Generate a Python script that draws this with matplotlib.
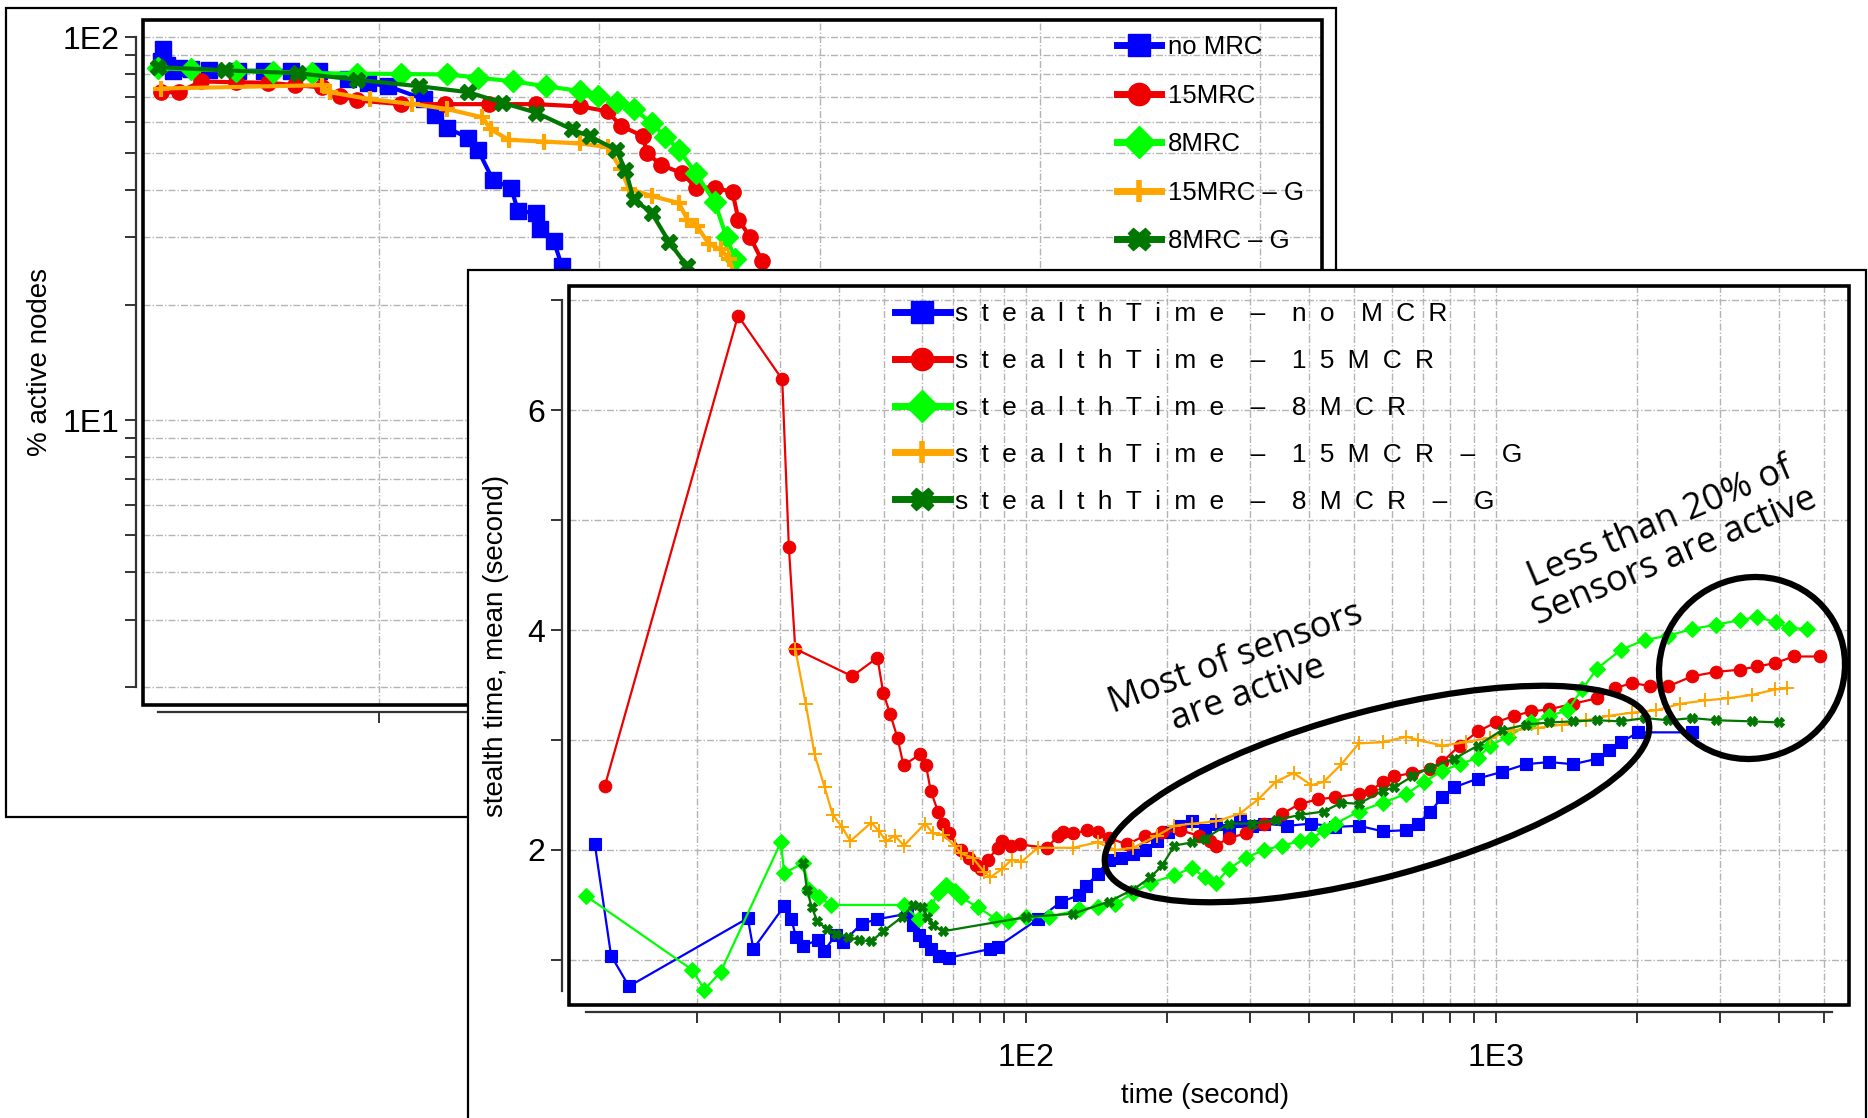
import matplotlib
matplotlib.use("Agg")
import matplotlib.pyplot as plt
from matplotlib.lines import Line2D
from matplotlib.patches import Rectangle, Ellipse

# ---------------- back chart: % active nodes ----------------
BACK_NO_T = [11, 22, 38, 65, 92, 150, 230, 362, 480, 600, 730, 859, 950, 1043, 1205,
             1254, 1308, 1405, 1449, 1519, 1600, 1632, 1713, 1730, 1794, 1832, 1865]
BACK_NO_V = [86.6, 93.1, 84.8, 81.8, 83.0, 82.5, 82.0, 81.8, 81.8, 81.8, 81.8, 77.8,
             76.0, 74.5, 68.9, 62.7, 58.0, 54.7, 50.9, 42.3, 40.5, 35.1, 34.8, 31.5,
             29.3, 25.2, 20.9]

BACK_15_T = [11, 92, 195, 350, 497, 620, 741, 822, 903, 1103, 1300, 1500, 1713, 1913,
             2038, 2097, 2200, 2216, 2281, 2378, 2438, 2524, 2605, 2632, 2686, 2740, 2794]
BACK_15_V = [71.9, 71.9, 76.7, 76.3, 76.1, 75.0, 74.0, 70.4, 68.4, 66.9, 66.9, 66.9,
             66.9, 66.0, 64.1, 58.8, 55.1, 49.9, 46.4, 44.1, 40.5, 40.5, 39.4, 33.4,
             30.0, 26.0, 21.7]

BACK_8_T = [0, 150, 350, 520, 697, 900, 1100, 1308, 1450, 1611, 1760, 1913, 1995, 2080,
            2157, 2238, 2300, 2362, 2438, 2524, 2578, 2616, 2659]
BACK_8_V = [83.0, 82.5, 81.8, 81.2, 80.6, 80.4, 80.2, 80.0, 78.5, 76.7, 74.5, 72.4,
            70.4, 67.8, 65.0, 59.7, 55.0, 50.9, 44.1, 37.2, 30.0, 26.4, 20.9]

BACK_15G_T = [11, 741, 778, 962, 1150, 1308, 1470, 1508, 1589, 1750, 1913, 2038, 2097,
              2135, 2238, 2362, 2400, 2443, 2497, 2551, 2589, 2632]
BACK_15G_V = [73.5, 75.0, 71.9, 68.9, 67.0, 65.0, 61.8, 57.5, 54.0, 53.4, 52.8, 51.7,
              45.4, 40.2, 38.5, 36.9, 33.4, 32.2, 28.9, 27.9, 26.4, 22.4]

BACK_8G_T = [0, 300, 632, 900, 1184, 1405, 1560, 1713, 1876, 1957, 2076, 2119, 2157,
             2238, 2319, 2400, 2443]
BACK_8G_V = [83.6, 82.0, 80.6, 77.5, 74.5, 71.9, 67.5, 63.6, 57.5, 55.1, 50.9, 45.1,
             37.7, 34.8, 29.1, 25.2, 21.7]

BACK_LABELS = ["no MRC", "15MRC", "8MRC", "15MRC \u2013 G", "8MRC \u2013 G"]

# ---------------- front chart: stealth time ----------------
NO_T = [12.1, 13.1, 14.3, 25.6, 26.3, 30.6, 31.7, 32.4, 33.6, 36.1, 37.2, 39.4, 40.8,
        44.7, 48.3, 55.8, 57.5, 59.2, 60.9, 62.7, 65.3, 68.5, 84, 87, 106, 119, 130,
        134, 142, 150, 159, 169, 179, 190, 201, 213, 226, 240, 254, 270, 285, 303,
        321, 360, 405, 455, 511, 574, 645, 683, 725, 769, 815, 916, 1029, 1157, 1300,
        1460, 1641, 1740, 1844, 2010, 2617]
NO_Y = [2.05, 1.04, 0.76, 1.38, 1.10, 1.49, 1.37, 1.21, 1.13, 1.18, 1.08, 1.23, 1.16,
        1.33, 1.37, 1.42, 1.32, 1.23, 1.17, 1.10, 1.04, 1.02, 1.10, 1.12, 1.37, 1.53,
        1.59, 1.67, 1.78, 1.91, 1.93, 1.96, 2.00, 2.08, 2.16, 2.22, 2.26, 2.18, 2.24,
        2.18, 2.26, 2.22, 2.24, 2.22, 2.24, 2.21, 2.22, 2.17, 2.18, 2.24, 2.35, 2.48,
        2.57, 2.65, 2.71, 2.78, 2.80, 2.78, 2.83, 2.91, 2.98, 3.07, 3.07]

MCR15_T = [12.7, 24.4, 30.3, 31.3, 32.3, 42.7, 48.3, 49.7, 51.4, 53.3, 54.9, 59.5, 61.3,
           62.7, 65.0, 66.5, 68.5, 72.6, 75.6, 78.3, 80.2, 83, 87, 89, 93, 97, 111,
           117, 120, 126, 135, 142, 150, 164, 179, 195, 213, 233, 247, 254, 270, 294,
           321, 351, 383, 418, 455, 511, 542, 574, 608, 664, 725, 769, 837, 916, 1000,
           1092, 1190, 1300, 1460, 1641, 1790, 1950, 2130, 2329, 2617, 2941, 3304,
           3600, 3930, 4300, 4890]
MCR15_Y = [2.58, 6.86, 6.28, 4.76, 3.83, 3.58, 3.75, 3.43, 3.24, 3.02, 2.77, 2.87, 2.77,
           2.54, 2.35, 2.24, 2.15, 2.00, 1.93, 1.86, 1.83, 1.91, 2.02, 2.08, 2.04, 2.05,
           2.02, 2.13, 2.16, 2.15, 2.18, 2.16, 2.11, 2.05, 2.13, 2.16, 2.18, 2.13, 2.08,
           2.04, 2.11, 2.15, 2.24, 2.33, 2.42, 2.46, 2.48, 2.51, 2.54, 2.62, 2.67, 2.70,
           2.74, 2.80, 2.95, 3.08, 3.16, 3.22, 3.26, 3.28, 3.33, 3.38, 3.47, 3.52, 3.49,
           3.49, 3.58, 3.62, 3.64, 3.67, 3.70, 3.76, 3.76]

MCR8_T = [11.6, 19.5, 20.7, 22.4, 30.1, 30.6, 33.6, 34.6, 36.3, 38.5, 54.9, 59.2, 62.7,
          65, 67.7, 70.5, 72.6, 79, 86.5, 91.6, 100, 112, 130, 142, 155, 169, 184, 207,
          226, 240, 254, 270, 294, 321, 351, 383, 405, 430, 455, 511, 574, 645, 704,
          769, 837, 916, 971, 1060, 1190, 1300, 1420, 1525, 1641, 1844, 2072, 2329,
          2617, 2941, 3304, 3600, 3950, 4200, 4600]
MCR8_Y = [1.58, 0.91, 0.73, 0.89, 2.07, 1.79, 1.88, 1.64, 1.57, 1.50, 1.50, 1.37, 1.48,
          1.61, 1.68, 1.63, 1.57, 1.48, 1.37, 1.35, 1.39, 1.39, 1.46, 1.48, 1.51, 1.61,
          1.70, 1.77, 1.84, 1.75, 1.70, 1.83, 1.93, 2.00, 2.04, 2.08, 2.10, 2.18, 2.24,
          2.35, 2.43, 2.51, 2.62, 2.72, 2.78, 2.84, 2.95, 3.03, 3.16, 3.22, 3.27, 3.46,
          3.65, 3.82, 3.91, 3.95, 4.01, 4.05, 4.09, 4.12, 4.07, 4.02, 4.01]

MCR15G_T = [32.3, 34, 35.5, 37.3, 38.8, 40.6, 42.3, 46.9, 48.7, 50.4, 52.6, 55, 61,
            63.5, 66.5, 70.5, 72.6, 77, 81.5, 84, 89, 93.2, 97.7, 106, 126, 142, 155,
            169, 190, 207, 226, 254, 285, 312, 340, 371, 405, 430, 469, 511, 574, 645,
            683, 769, 862, 971, 1092, 1226, 1380, 1553, 1740, 1950, 2190, 2470, 2780,
            3120, 3500, 3930, 4170]
MCR15G_Y = [3.83, 3.33, 2.87, 2.57, 2.32, 2.21, 2.08, 2.25, 2.17, 2.08, 2.13, 2.04, 2.24,
            2.15, 2.14, 2.04, 1.97, 1.93, 1.80, 1.75, 1.83, 1.91, 1.89, 2.02, 2.02, 2.07,
            2.00, 2.02, 2.13, 2.22, 2.24, 2.26, 2.33, 2.46, 2.62, 2.70, 2.59, 2.62, 2.78,
            2.97, 2.98, 3.03, 3.00, 2.95, 2.98, 3.02, 3.09, 3.11, 3.14, 3.18, 3.22, 3.25,
            3.27, 3.33, 3.36, 3.38, 3.41, 3.46, 3.47]

MCR8G_T = [33.6, 34.2, 35, 36, 37.7, 39.4, 41.8, 44.2, 46.9, 49.7, 54.5, 57.5, 60, 61.7,
           63.5, 66.5, 100, 126, 150, 169, 184, 195, 207, 226, 240, 270, 303, 340, 383,
           430, 469, 511, 574, 608, 664, 725, 815, 916, 1029, 1157, 1300, 1460, 1641,
           1844, 2072, 2329, 2617, 2941, 3500, 4000]
MCR8G_Y = [1.88, 1.64, 1.48, 1.35, 1.28, 1.24, 1.21, 1.18, 1.17, 1.26, 1.39, 1.50, 1.48,
           1.39, 1.32, 1.26, 1.39, 1.42, 1.53, 1.64, 1.75, 1.86, 2.04, 2.07, 2.10, 2.24,
           2.24, 2.27, 2.32, 2.35, 2.43, 2.42, 2.54, 2.57, 2.67, 2.75, 2.83, 2.95, 3.09,
           3.14, 3.16, 3.17, 3.18, 3.17, 3.20, 3.18, 3.20, 3.18, 3.17, 3.16]

FRONT_LABELS = ["stealthTime \u2013 no MCR", "stealthTime \u2013 15MCR",
                "stealthTime \u2013 8MCR", "stealthTime \u2013 15MCR \u2013 G",
                "stealthTime \u2013 8MCR \u2013 G"]

COLORS = ["#0000ff", "#ee0000", "#00ff00", "#ffa500", "#007700"]
MARKERS = ["s", "o", "D", "+", "X"]

BACK_SERIES = [(BACK_NO_T, BACK_NO_V), (BACK_15_T, BACK_15_V), (BACK_8_T, BACK_8_V),
               (BACK_15G_T, BACK_15G_V), (BACK_8G_T, BACK_8G_V)]
FRONT_SERIES = [(NO_T, NO_Y), (MCR15_T, MCR15_Y), (MCR8_T, MCR8_Y),
                (MCR15G_T, MCR15G_Y), (MCR8G_T, MCR8G_Y)]

W, H = 1868, 1118
GRID = dict(color="#b4b4b4", linestyle=(0, (5, 1.5, 1, 1.5)), linewidth=1.0)
FONT = ["Liberation Sans", "DejaVu Sans"]
plt.rcParams["font.family"] = FONT


def spaced(s):
    # wide letter spacing as in the original legend
    en = "\u2002"
    return (en * 2).join(en.join(word) for word in s.split(" "))


def px_axes(fig, l, t, r, b):
    return fig.add_axes([l / W, 1 - b / H, (r - l) / W, (b - t) / H])


def detached_frame(ax, lw=2.6):
    for side in ("top", "right"):
        ax.spines[side].set_visible(False)
    for side in ("left", "bottom"):
        ax.spines[side].set_position(("outward", 5))
        ax.spines[side].set_linewidth(1.6)
        ax.spines[side].set_color("#333333")
    ax.add_patch(Rectangle((0, 0), 1, 1, transform=ax.transAxes, fill=False,
                           lw=lw, ec="black", clip_on=False, zorder=5))
    ax.tick_params(which="both", direction="out", length=8, width=1.4,
                   color="#333333", labelsize=23, pad=4)


fig = plt.figure(figsize=(W / 100, H / 100), dpi=100)

# ---- back panel ----
fig.add_artist(Rectangle((6 / W, 1 - 817 / H), (1336 - 6) / W, (817 - 8) / H,
                         transform=fig.transFigure, fill=False, lw=1.6,
                         ec="black", zorder=0.5))
ax1 = px_axes(fig, 143, 20, 1322, 705)
ax1.set_zorder(0.6)
ax1.set_yscale("log")
ax1.set_xlim(-70, 5280)
ax1.set_ylim(1.80, 111)
for (t, v), c, m, lab in zip(BACK_SERIES, COLORS, MARKERS, BACK_LABELS):
    ax1.plot(t, v, color=c, marker=m, ms=11, mew=3 if m == "+" else 1,
             lw=3, label=lab, zorder=3)
detached_frame(ax1)
ax1.spines["left"].set_bounds(2, 100)
ax1.spines["bottom"].set_bounds(0, 5280)
ax1.set_xticks([1000, 2000, 3000, 4000, 5000])
ax1.set_xticklabels([])
yt = [2, 3, 4, 5, 6, 7, 8, 9, 10, 20, 30, 40, 50, 60, 70, 80, 90, 100]
ax1.set_yticks(yt)
ax1.set_yticklabels(["1E1" if v == 10 else "1E2" if v == 100 else "" for v in yt])
ax1.minorticks_off()
ax1.grid(True, **GRID)
ax1.set_ylabel("% active nodes", fontsize=20)
ax1.yaxis.set_label_coords(-0.076, 0.5)
leg_h = [Line2D([], [], color=c, marker=m, lw=5, ms=16, mew=4 if m == "+" else 1)
         for c, m in zip(COLORS, MARKERS)]
lg1 = ax1.legend(leg_h, BACK_LABELS, loc="upper right", bbox_to_anchor=(0.998, 1.0),
                 borderaxespad=0, frameon=True, fancybox=False, framealpha=0,
                 edgecolor="#c8c8c8", handlelength=1.7, handletextpad=0.3,
                 labelspacing=0.95, borderpad=0.6,
                 prop=dict(family=["Liberation Sans Narrow", "Liberation Sans"],
                           size=18.5))
lg1.get_frame().set_linewidth(1.2)

# ---- front panel ----
fig.add_artist(Rectangle((468 / W, -0.05), (1866 - 468) / W, (1 - 270 / H) + 0.05,
                         transform=fig.transFigure, fc="white", lw=1.6,
                         ec="black", zorder=1))
ax2 = px_axes(fig, 569, 286, 1849, 1005)
ax2.set_zorder(2)
ax2.set_xscale("log")
ax2.set_xlim(10.66, 5640)
ax2.set_ylim(0.59, 7.13)
for (t, v), c, m, lab in zip(FRONT_SERIES, COLORS, MARKERS, FRONT_LABELS):
    ms = {"s": 8, "o": 9, "D": 8, "+": 10, "X": 6.5}[m]
    ax2.plot(t, v, color=c, marker=m, ms=ms, mew=1.4 if m == "+" else 0.8,
             lw=1.6, zorder=3)
detached_frame(ax2)
ax2.spines["left"].set_bounds(0.72, 7.0)
ax2.spines["bottom"].set_bounds(11.6, 5200)
xt = [20, 30, 40, 50, 60, 70, 80, 90, 100, 200, 300, 400, 500, 600, 700, 800, 900,
      1000, 2000, 3000, 4000, 5000]
ax2.set_xticks(xt)
ax2.set_xticklabels(["1E2" if v == 100 else "1E3" if v == 1000 else "" for v in xt])
ax2.minorticks_off()
ax2.tick_params(axis="x", pad=14)
ax2.set_yticks([1, 2, 3, 4, 5, 6, 7])
ax2.set_yticklabels(["", "2", "", "4", "", "6", ""])
ax2.grid(True, **GRID)
ax2.set_xlabel("time (second)", fontsize=20)
ax2.xaxis.set_label_coords(0.497, -0.108)
ax2.set_ylabel("stealth time, mean (second)", fontsize=20)
ax2.yaxis.set_label_coords(-0.047, 0.5)
leg_h2 = [Line2D([], [], color=c, marker=m, lw=5, ms=16, mew=4 if m == "+" else 1)
          for c, m in zip(COLORS, MARKERS)]
lg2 = ax2.legend(leg_h2, [spaced(s) for s in FRONT_LABELS], loc="upper left",
                 bbox_to_anchor=(0.242, 1.0), borderaxespad=0, frameon=True,
                 fancybox=False, framealpha=0, edgecolor="#c8c8c8",
                 handlelength=2.1, handletextpad=0.2, labelspacing=0.87,
                 borderpad=0.6, prop=dict(size=19))
lg2.get_frame().set_linewidth(1.2)

# ---- hand-drawn style annotations ----
inch = fig.dpi_scale_trans
fig.add_artist(Ellipse((1377 / 100, (H - 794) / 100), 5.62, 1.66, angle=15,
                       transform=inch, fill=False, lw=4.5, ec="black", zorder=5))
fig.add_artist(Ellipse((1752 / 100, (H - 668) / 100), 1.88, 1.80, angle=30,
                       transform=inch, fill=False, lw=4.5, ec="black", zorder=5))
fig.text(1242 / W, 1 - 676 / H, "Most of sensors\nare active", rotation=20,
         ha="center", va="center", fontsize=26, linespacing=1.05,
         family=["Open Sans", "DejaVu Sans"], zorder=6)
fig.text(1668 / W, 1 - 540 / H, "Less than 20% of\nSensors are active", rotation=23,
         ha="center", va="center", fontsize=26, linespacing=1.05,
         family=["Open Sans", "DejaVu Sans"], zorder=6)

fig.savefig("out.png", dpi=100)
